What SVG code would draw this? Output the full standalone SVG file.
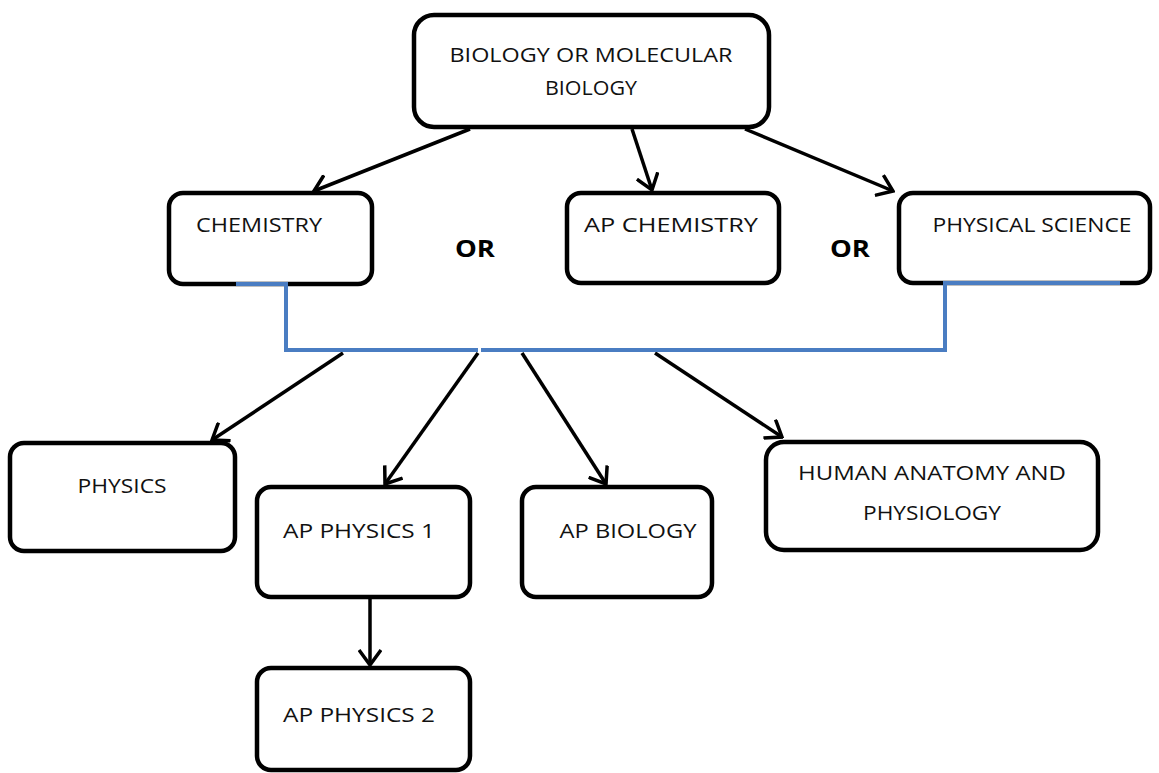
<svg xmlns="http://www.w3.org/2000/svg" width="1159" height="773" viewBox="0 0 1159 773">
<defs>
<marker id="arr" viewBox="0 0 18 24" refX="16" refY="12" markerWidth="18" markerHeight="24" markerUnits="userSpaceOnUse" orient="auto">
<path d="M1,1 L16,12 L1,23" fill="none" stroke="#000" stroke-width="3.5" stroke-linejoin="miter"/>
</marker>
<style>
.box{fill:#fff;stroke:#000;stroke-width:4.5}
.t{font-family:"Open Sans","Liberation Sans",sans-serif;font-size:20.5px;fill:#111;text-anchor:middle}
.or{font-family:"Open Sans","Liberation Sans",sans-serif;font-size:24px;font-weight:bold;fill:#000;text-anchor:middle}
.c{stroke:#000;stroke-width:3.5;fill:none;marker-end:url(#arr)}
.blue{stroke:#4a7dc2;stroke-width:4;fill:none}
</style>
</defs>
<rect width="1159" height="773" fill="#fff"/>

<g id="connectors">
<line class="c" x1="470" y1="129" x2="314" y2="191"/>
<line class="c" x1="632" y1="129" x2="652" y2="190"/>
<line class="c" x1="745" y1="129" x2="893" y2="191"/>
<line class="c" x1="343" y1="353" x2="212" y2="440"/>
<line class="c" x1="478" y1="353" x2="385" y2="484"/>
<line class="c" x1="522" y1="353" x2="606" y2="484"/>
<line class="c" x1="655" y1="353" x2="782" y2="437"/>
<line class="c" x1="370" y1="598" x2="370" y2="665"/>
</g>

<g id="n-biology">
<rect class="box" x="414" y="15" width="355" height="112" rx="20"/>
<text class="t" x="591" y="62" textLength="283" lengthAdjust="spacingAndGlyphs">BIOLOGY OR MOLECULAR</text>
<text class="t" x="591" y="95" textLength="92" lengthAdjust="spacingAndGlyphs">BIOLOGY</text>
</g>

<g id="n-chemistry">
<rect class="box" x="169" y="193" width="203" height="91" rx="14"/>
<text class="t" x="259" y="232" textLength="126" lengthAdjust="spacingAndGlyphs">CHEMISTRY</text>
</g>

<g id="n-apchem">
<rect class="box" x="567" y="193" width="212" height="90" rx="14"/>
<text class="t" x="671" y="232" textLength="174" lengthAdjust="spacingAndGlyphs">AP CHEMISTRY</text>
</g>

<g id="n-physsci">
<rect class="box" x="899" y="193" width="251" height="90" rx="14"/>
<text class="t" x="1032" y="232" textLength="199" lengthAdjust="spacingAndGlyphs">PHYSICAL SCIENCE</text>
</g>

<g id="or-labels">
<text class="or" x="475" y="257" textLength="40" lengthAdjust="spacingAndGlyphs">OR</text>
<text class="or" x="850" y="257" textLength="40" lengthAdjust="spacingAndGlyphs">OR</text>
</g>

<g id="bracket">
<path class="blue" d="M236,284 H286 V350 H478"/>
<path class="blue" d="M481,350 H945 V283 H1120"/>
</g>

<g id="n-physics">
<rect class="box" x="10" y="443" width="225" height="108" rx="14"/>
<text class="t" x="122" y="493" textLength="89" lengthAdjust="spacingAndGlyphs">PHYSICS</text>
</g>

<g id="n-apphys1">
<rect class="box" x="257" y="487" width="213" height="110" rx="14"/>
<text class="t" x="359" y="538" textLength="152" lengthAdjust="spacingAndGlyphs">AP PHYSICS 1</text>
</g>

<g id="n-apbio">
<rect class="box" x="522" y="487" width="190" height="110" rx="14"/>
<text class="t" x="628" y="538" textLength="137" lengthAdjust="spacingAndGlyphs">AP BIOLOGY</text>
</g>

<g id="n-anatomy">
<rect class="box" x="766" y="442" width="332" height="108" rx="18"/>
<text class="t" x="932" y="480" textLength="268" lengthAdjust="spacingAndGlyphs">HUMAN ANATOMY AND</text>
<text class="t" x="932" y="520" textLength="138" lengthAdjust="spacingAndGlyphs">PHYSIOLOGY</text>
</g>

<g id="n-apphys2">
<rect class="box" x="257" y="668" width="213" height="102" rx="14"/>
<text class="t" x="359" y="722" textLength="152" lengthAdjust="spacingAndGlyphs">AP PHYSICS 2</text>
</g>
</svg>
